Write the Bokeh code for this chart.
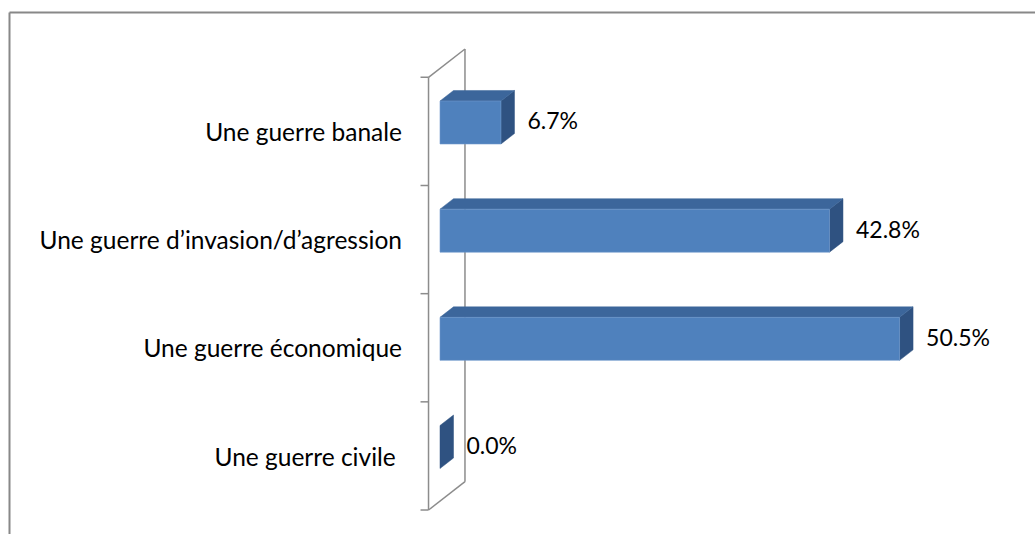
from bokeh.plotting import figure
from bokeh.models import Range1d, ColumnDataSource
from bokeh.embed import file_html
from bokeh.resources import INLINE
from bokeh.core.properties import value

# ---- data ----
categories = ["Une guerre civile ", "Une guerre économique",
              "Une guerre d\u2019invasion/d\u2019agression", "Une guerre banale"]
values = [0.0, 50.5, 42.8, 6.7]
value_labels = ["0.0%", "50.5%", "42.8%", "6.7%"]

# ---- geometry (pixels -> data units) ----
W, H = 1035, 534
PX_X = 9.1          # pixels per percent
PX_Y = 108.17       # pixels per category
x0_px, y0_px = 439.5, 446.5   # px of value 0 / first category (top-down y)
x_start = -x0_px / PX_X
x_end = x_start + W / PX_X
y_end = y0_px / PX_Y
y_start = y_end - H / PX_Y

DX = 13.5 / PX_X    # depth vector
DY = 10.5 / PX_Y
HALF = 21.5 / PX_Y  # half bar height

FRONT_C, TOP_C, SIDE_C = "#4F81BD", "#3C669B", "#2F5281"
GRID_C = "#8C8C8C"

p = figure(width=W, height=H, x_range=Range1d(x_start, x_end),
           y_range=Range1d(y_start, y_end), output_backend="svg",
           toolbar_location=None, min_border=0)
p.axis.visible = False
p.grid.visible = False
p.outline_line_color = None
p.background_fill_color = "white"

# chart border (top/left visible)
bx = x_start + 9.0 / PX_X
by = y_end - 12.0 / PX_Y
p.line([bx, bx], [y_start - 1, by], line_color="#888888", line_width=2)
p.line([bx, x_end + 1], [by, by], line_color="#888888", line_width=2)

# back wall (the value-axis plane)
n = len(categories)
fd0, fd1 = -0.85, 1.85   # wall front/back depth, in bar-depth units
wf_x = fd0 * DX
wb_x = fd1 * DX
wf_top = n - 0.5 + fd0 * DY
wf_bot = -0.5 + fd0 * DY
wb_top = n - 0.5 + fd1 * DY
wb_bot = -0.5 + fd1 * DY
wall_lines = dict(line_color=GRID_C, line_width=1.5)
p.line([wf_x, wf_x], [wf_bot, wf_top], **wall_lines)
p.line([wb_x, wb_x], [wb_bot, wb_top], **wall_lines)
p.line([wf_x, wb_x], [wf_top, wb_top], **wall_lines)
p.line([wf_x, wb_x], [wf_bot, wb_bot], **wall_lines)
# category tick marks
tick_len = 8 / PX_X
for k in range(n + 1):
    yy = -0.5 + k + fd0 * DY
    p.line([wf_x - tick_len, wf_x], [yy, yy], **wall_lines)

# 3D bars
fx, fy, tx, ty, sx, sy = [], [], [], [], [], []
for i, v in enumerate(values):
    yb, yt = i - HALF, i + HALF
    if v > 0:
        fx.append([0, v, v, 0]); fy.append([yb, yb, yt, yt])
        tx.append([0, v, v + DX, DX]); ty.append([yt, yt, yt + DY, yt + DY])
    sx.append([v, v + DX, v + DX, v]); sy.append([yb, yb + DY, yt + DY, yt])
p.patches(sx, sy, fill_color=SIDE_C, line_color=SIDE_C, line_width=0.5)
p.patches(tx, ty, fill_color=TOP_C, line_color=TOP_C, line_width=0.5)
p.patches(fx, fy, fill_color=FRONT_C, line_color="#6E98CC", line_width=0.6)

# value labels
lab_src = ColumnDataSource(dict(
    x=[v + DX + 13.0 / PX_X for v in values],
    y=[i + 2.0 / PX_Y for i in range(n)],
    t=value_labels))
p.text(x="x", y="y", text="t", source=lab_src, text_align="left",
       text_baseline="middle", text_font=value("Lato"),
       text_font_size="23px", text_color="#000000")

# category labels
cat_src = ColumnDataSource(dict(
    x=[-38.0 / PX_X] * n,
    y=[i - 9.0 / PX_Y for i in range(n)],
    t=categories))
p.text(x="x", y="y", text="t", source=cat_src, text_align="right",
       text_baseline="middle", text_font=value("Lato"),
       text_font_size="24.5px", text_color="#000000")

open("out.html", "w").write(file_html(p, INLINE))
